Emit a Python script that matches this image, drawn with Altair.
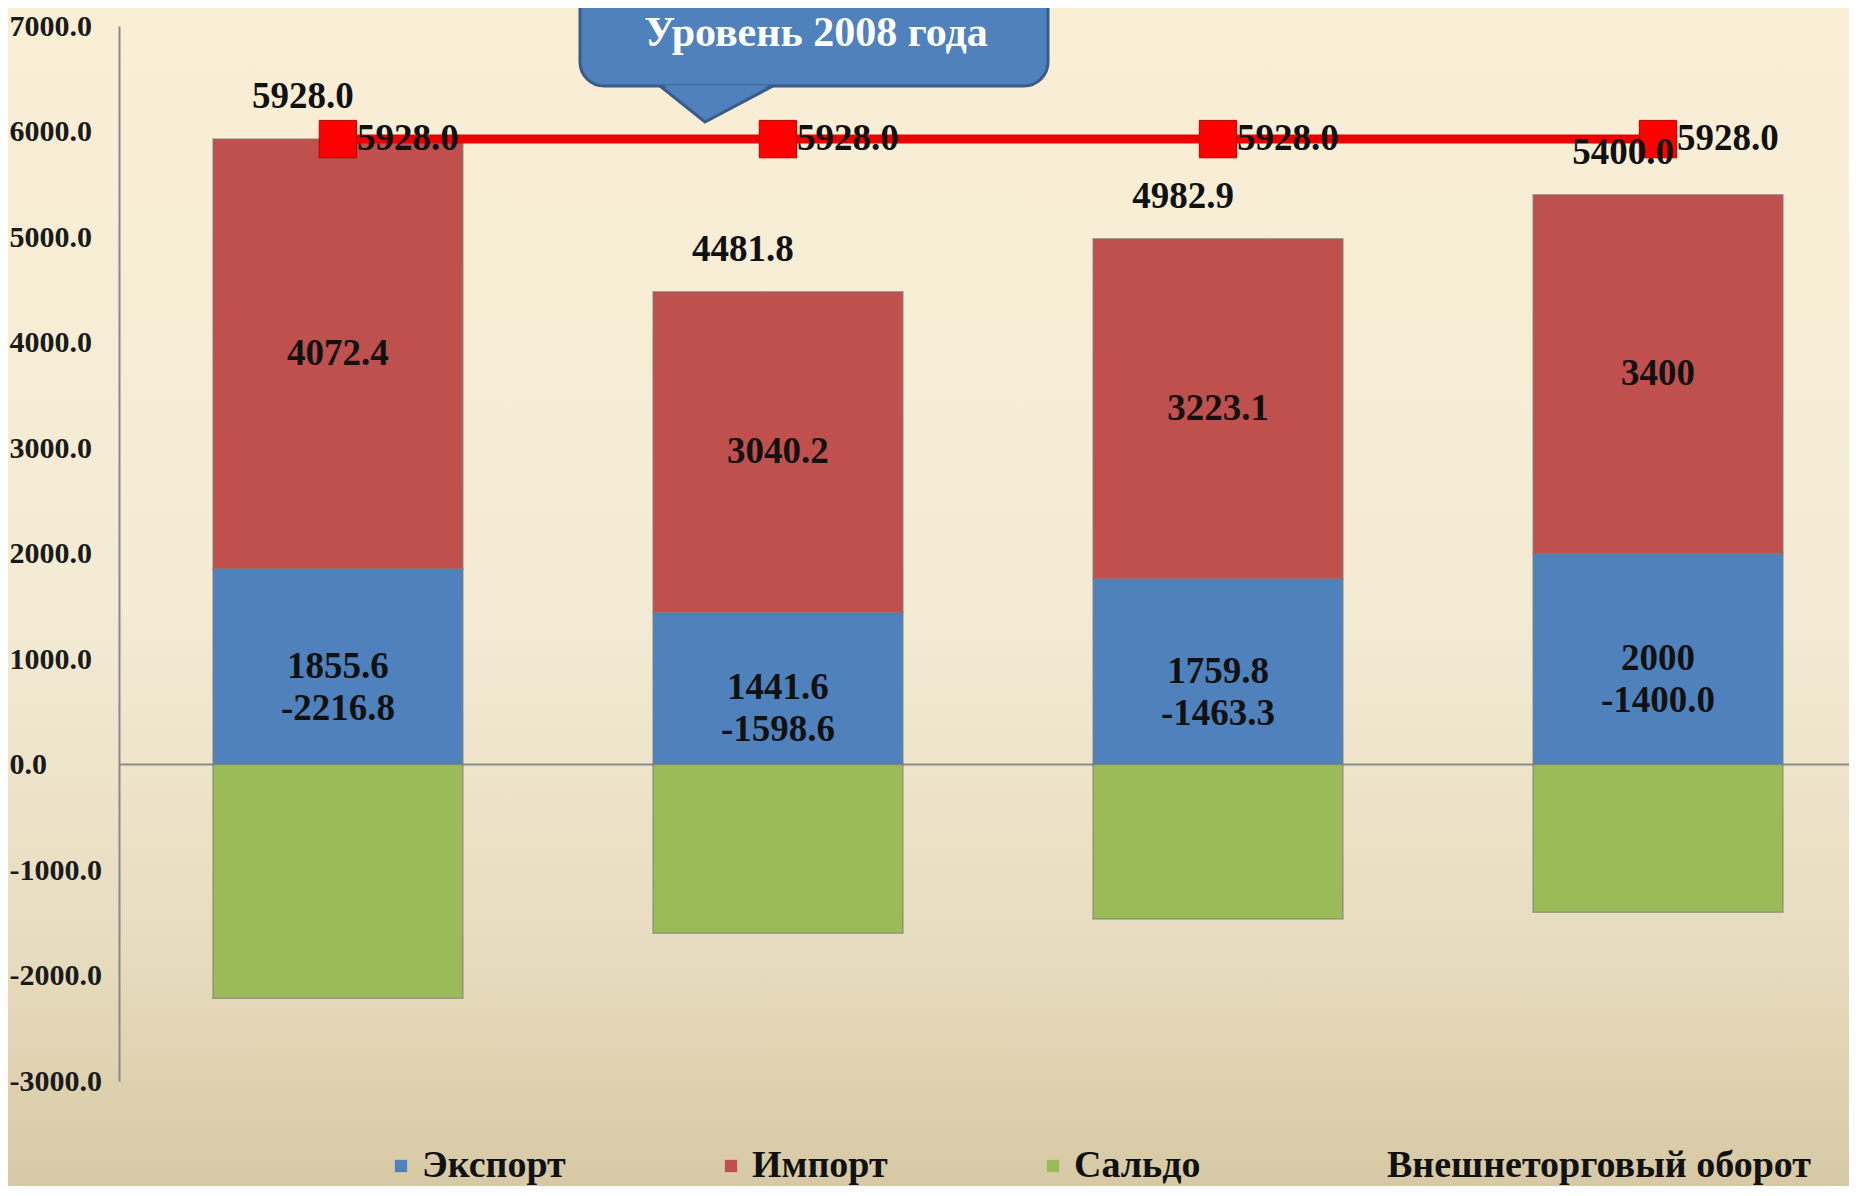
import altair as alt
import pandas as pd

# ---- data ----
cats = ["2008", "2009", "2010", "2011"]
export_vals = [1855.6, 1441.6, 1759.8, 2000]
import_vals = [4072.4, 3040.2, 3223.1, 3400]
saldo_vals = [-2216.8, -1598.6, -1463.3, -1400.0]
turnover_vals = [5928.0, 4481.8, 4982.9, 5400.0]
level_2008 = [5928.0, 5928.0, 5928.0, 5928.0]

series_names = ["Экспорт", "Импорт", "Сальдо", "Внешнеторговый оборот"]
series_colors = ["#4F81BD", "#C0504D", "#9BBB59", "rgba(0,0,0,0)"]
y_ticks = [-3000, -2000, -1000, 0, 1000, 2000, 3000, 4000, 5000, 6000, 7000]
callout_text = "Уровень 2008 года"

FONT = "Liberation Serif"
W, H = 1730, 1055
PAD = {"left": 111, "top": 18, "right": 0, "bottom": 105}

# ---- tables ----
rows = []
for i, c in enumerate(cats):
    rows.append({"cat": c, "series": "Экспорт", "value": export_vals[i], "ord": 0})
    rows.append({"cat": c, "series": "Импорт", "value": import_vals[i], "ord": 1})
    rows.append({"cat": c, "series": "Сальдо", "value": saldo_vals[i], "ord": 2})
bars_df = pd.DataFrame(rows)

wide_df = pd.DataFrame({
    "cat": cats,
    "exp": export_vals,
    "imp": import_vals,
    "sal": saldo_vals,
    "tot": turnover_vals,
    "lvl": level_2008,
})

# hyphen-minus formatted labels (as in the reference)
wide_df["exp_t"] = [f"{v:g}" for v in export_vals]
wide_df["imp_t"] = [f"{v:g}" for v in import_vals]
wide_df["sal_t"] = [f"{v:.1f}" for v in saldo_vals]
wide_df["tot_t"] = [f"{v:.1f}" for v in turnover_vals]
wide_df["lvl_t"] = [f"{v:.1f}" for v in level_2008]

xscale = alt.Scale(domain=cats, paddingInner=0.432, paddingOuter=0.1818, align=0.5875)
yscale = alt.Scale(domain=[-3000, 7000], nice=False, zero=False)
X = alt.X("cat:N", scale=xscale, axis=None)

# background gradient
bg = alt.Chart(pd.DataFrame({"k": [0]})).mark_rect(
    color=alt.Gradient(
        gradient="linear",
        stops=[
            alt.GradientStop(color="#FAEFD5", offset=0),
            alt.GradientStop(color="#F4EBD5", offset=0.5),
            alt.GradientStop(color="#E7DCBE", offset=0.8),
            alt.GradientStop(color="#D7C9A5", offset=1),
        ],
        x1=0, x2=0, y1=0, y2=1,
    )
).encode(
    x=alt.value(-PAD["left"]), x2=alt.value(W),
    y=alt.value(-PAD["top"]), y2=alt.value(H + PAD["bottom"]),
)

zero_rule = alt.Chart(pd.DataFrame({"k": [0]})).mark_rule(
    color="#8A8A8A", strokeWidth=2
).encode(y=alt.datum(0, scale=yscale))

bars = alt.Chart(bars_df).mark_bar(
    stroke="#7a7a7a", strokeOpacity=0.6, strokeWidth=1.5
).encode(
    x=X,
    y=alt.Y(
        "value:Q", stack="zero", scale=yscale,
        axis=alt.Axis(
            values=y_ticks, title=None, grid=False,
            labelExpr="datum.value < 0 ? '-' + format(-datum.value, '.1f') : format(datum.value, '.1f')",
            ticks=False, tickSize=0, labelAlign="left", labelPadding=110,
            labelFont=FONT, labelFontSize=30, labelFontWeight="bold",
            labelColor="#1a1a1a", labelBaseline="middle",
            domainColor="#8A8A8A", domainWidth=2, zindex=1,
        ),
    ),
    color=alt.Color(
        "series:N",
        scale=alt.Scale(domain=series_names, range=series_colors),
        legend=alt.Legend(
            orient="none", legendX=263, legendY=1121, direction="horizontal",
            title=None, labelFont=FONT, labelFontSize=38, labelFontWeight="bold",
            labelColor="#111111", symbolType="square", symbolSize=150,
            symbolStrokeWidth=0, columnPadding=146, labelOffset=2, padding=0,
            labelLimit=800, gridAlign="none", zindex=1,
        ),
    ),
    order=alt.Order("ord:Q"),
)

base_txt = dict(font=FONT, fontSize=37, fontWeight="bold", color="#111111", baseline="middle")

exp_lbl = alt.Chart(wide_df).transform_calculate(
    ypos="datum.exp / 2"
).mark_text(**base_txt).encode(
    x=X, y=alt.Y("ypos:Q", scale=yscale), text="exp_t:N",
)

imp_lbl = alt.Chart(wide_df).transform_calculate(
    ypos="datum.exp + datum.imp / 2"
).mark_text(**base_txt).encode(
    x=X, y=alt.Y("ypos:Q", scale=yscale), text="imp_t:N",
)

sal_lbl = alt.Chart(wide_df).transform_calculate(
    ypos="datum.exp / 2"
).mark_text(dy=42, **base_txt).encode(
    x=X, y=alt.Y("ypos:Q", scale=yscale), text="sal_t:N",
)

tot_lbl = alt.Chart(wide_df).mark_text(dy=-42, dx=-35, **base_txt).encode(
    x=X, y=alt.Y("tot:Q", scale=yscale), text="tot_t:N",
)

lvl_line = alt.Chart(wide_df).mark_line(color="#EE0000", strokeWidth=9).encode(
    x=X, y=alt.Y("lvl:Q", scale=yscale)
)
lvl_pts = alt.Chart(wide_df).mark_point(
    shape="square", filled=True, size=1400, fill="#FF0000", stroke="#B00000",
    strokeWidth=1, opacity=1
).encode(x=X, y=alt.Y("lvl:Q", scale=yscale))
lvl_lbl = alt.Chart(wide_df).mark_text(
    dx=19, align="left", **base_txt
).encode(
    x=X, y=alt.Y("lvl:Q", scale=yscale), text="lvl_t:N",
)

# callout annotation
tri_path = "M-1,-0.3186L1,-0.3186L-0.2035,0.3186Z"
one = pd.DataFrame({"k": [0]})
tri_a = alt.Chart(one).mark_point(
    shape=tri_path, filled=True, size=12769, fill="#4F81BD", stroke="#385D8A",
    strokeWidth=3, opacity=1
).encode(x=alt.value(597.5), y=alt.value(78))
box = alt.Chart(one).mark_rect(
    fill="#4F81BD", stroke="#385D8A", strokeWidth=3, cornerRadius=24
).encode(x=alt.value(461), x2=alt.value(929), y=alt.value(-60), y2=alt.value(60))
tri_b = alt.Chart(one).mark_point(
    shape=tri_path, filled=True, size=11000, fill="#4F81BD", strokeWidth=0, opacity=1
).encode(x=alt.value(597.5), y=alt.value(76))
box_txt = alt.Chart(pd.DataFrame({"t": [callout_text]})).mark_text(
    font=FONT, fontSize=42, fontWeight="bold", color="#FFFFFF", baseline="middle"
).encode(x=alt.value(697), y=alt.value(7), text="t:N")

chart = alt.layer(
    bg, zero_rule, bars, exp_lbl, imp_lbl, sal_lbl,
    lvl_line, lvl_pts, lvl_lbl, tot_lbl, tri_a, box, tri_b, box_txt
).properties(
    width=W, height=H, padding=PAD,
    autosize=alt.AutoSizeParams(type="none"),
).configure(
    background="#F6ECD3"
).configure_view(strokeWidth=0)

chart.save("out.html", embed_options={"renderer": "svg", "actions": False})
